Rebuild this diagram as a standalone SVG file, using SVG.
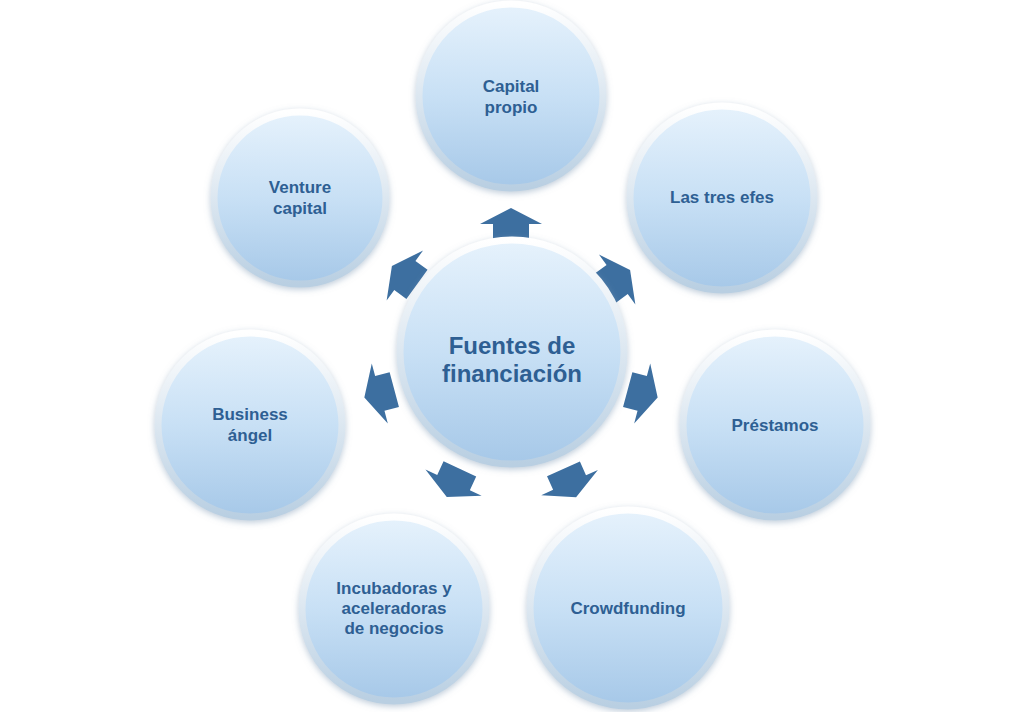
<svg xmlns="http://www.w3.org/2000/svg" width="1024" height="712" viewBox="0 0 1024 712">
<defs>
<linearGradient id="g" x1="0" y1="0" x2="0" y2="1">
<stop offset="0" stop-color="#e6f2fc"/><stop offset="0.5" stop-color="#c8e0f5"/><stop offset="1" stop-color="#a6c8e8"/>
</linearGradient>
<linearGradient id="rim" x1="0" y1="0" x2="0" y2="1">
<stop offset="0" stop-color="#ffffff"/><stop offset="1" stop-color="#b9cfe2"/>
</linearGradient>
<filter id="sh" x="-20%" y="-20%" width="140%" height="140%"><feDropShadow dx="0" dy="2" stdDeviation="3" flood-color="#7f9ab5" flood-opacity="0.5"/></filter>
<polygon id="arr" points="-31,6 0,-10 31,6 18,6 18,21 -18,21 -18,6"/>
</defs>
<style>
.c{fill:url(#g);stroke:url(#rim);stroke-width:7;filter:url(#sh)}
.t{font-family:"Liberation Sans",Arial,sans-serif;font-weight:bold;font-size:17px;fill:#2e5f93;text-anchor:middle}
.big{font-size:24px}
.a{fill:#3d6fa0}
</style>
<rect width="1024" height="712" fill="#fff"/>
<g id="connectors">
<use href="#arr" class="a" transform="translate(511,218)"/>
<use href="#arr" class="a" transform="translate(622,276) rotate(54)"/>
<use href="#arr" class="a" transform="translate(648,395) rotate(105)"/>
<use href="#arr" class="a" transform="translate(572,488) rotate(156)"/>
<use href="#arr" class="a" transform="translate(451,488) rotate(-155)"/>
<use href="#arr" class="a" transform="translate(374,395) rotate(-105)"/>
<use href="#arr" class="a" transform="translate(400,272) rotate(-54)"/>
</g>
<g id="center"><circle class="c" cx="512" cy="352" r="112"/><text class="t big" x="512" y="360"><tspan x="512" y="360" dy="-6">Fuentes de</tspan><tspan x="512" dy="28">financiación</tspan></text></g>
<g id="capital"><circle class="c" cx="511" cy="96" r="92"/><text class="t"><tspan x="511" y="92">Capital</tspan><tspan x="511" dy="21">propio</tspan></text></g>
<g id="efes"><circle class="c" cx="722" cy="198" r="92"/><text class="t" x="722" y="203">Las tres efes</text></g>
<g id="prestamos"><circle class="c" cx="775" cy="425" r="92"/><text class="t" x="775" y="431">Préstamos</text></g>
<g id="crowd"><circle class="c" cx="628" cy="608" r="98"/><text class="t" x="628" y="614">Crowdfunding</text></g>
<g id="incub"><circle class="c" cx="394" cy="609" r="92"/><text class="t"><tspan x="394" y="594">Incubadoras y</tspan><tspan x="394" dy="20">aceleradoras</tspan><tspan x="394" dy="20">de negocios</tspan></text></g>
<g id="business"><circle class="c" cx="250" cy="425" r="92"/><text class="t"><tspan x="250" y="420">Business</tspan><tspan x="250" dy="21">ángel</tspan></text></g>
<g id="venture"><circle class="c" cx="300" cy="198" r="86"/><text class="t"><tspan x="300" y="193">Venture</tspan><tspan x="300" dy="21">capital</tspan></text></g>
</svg>
